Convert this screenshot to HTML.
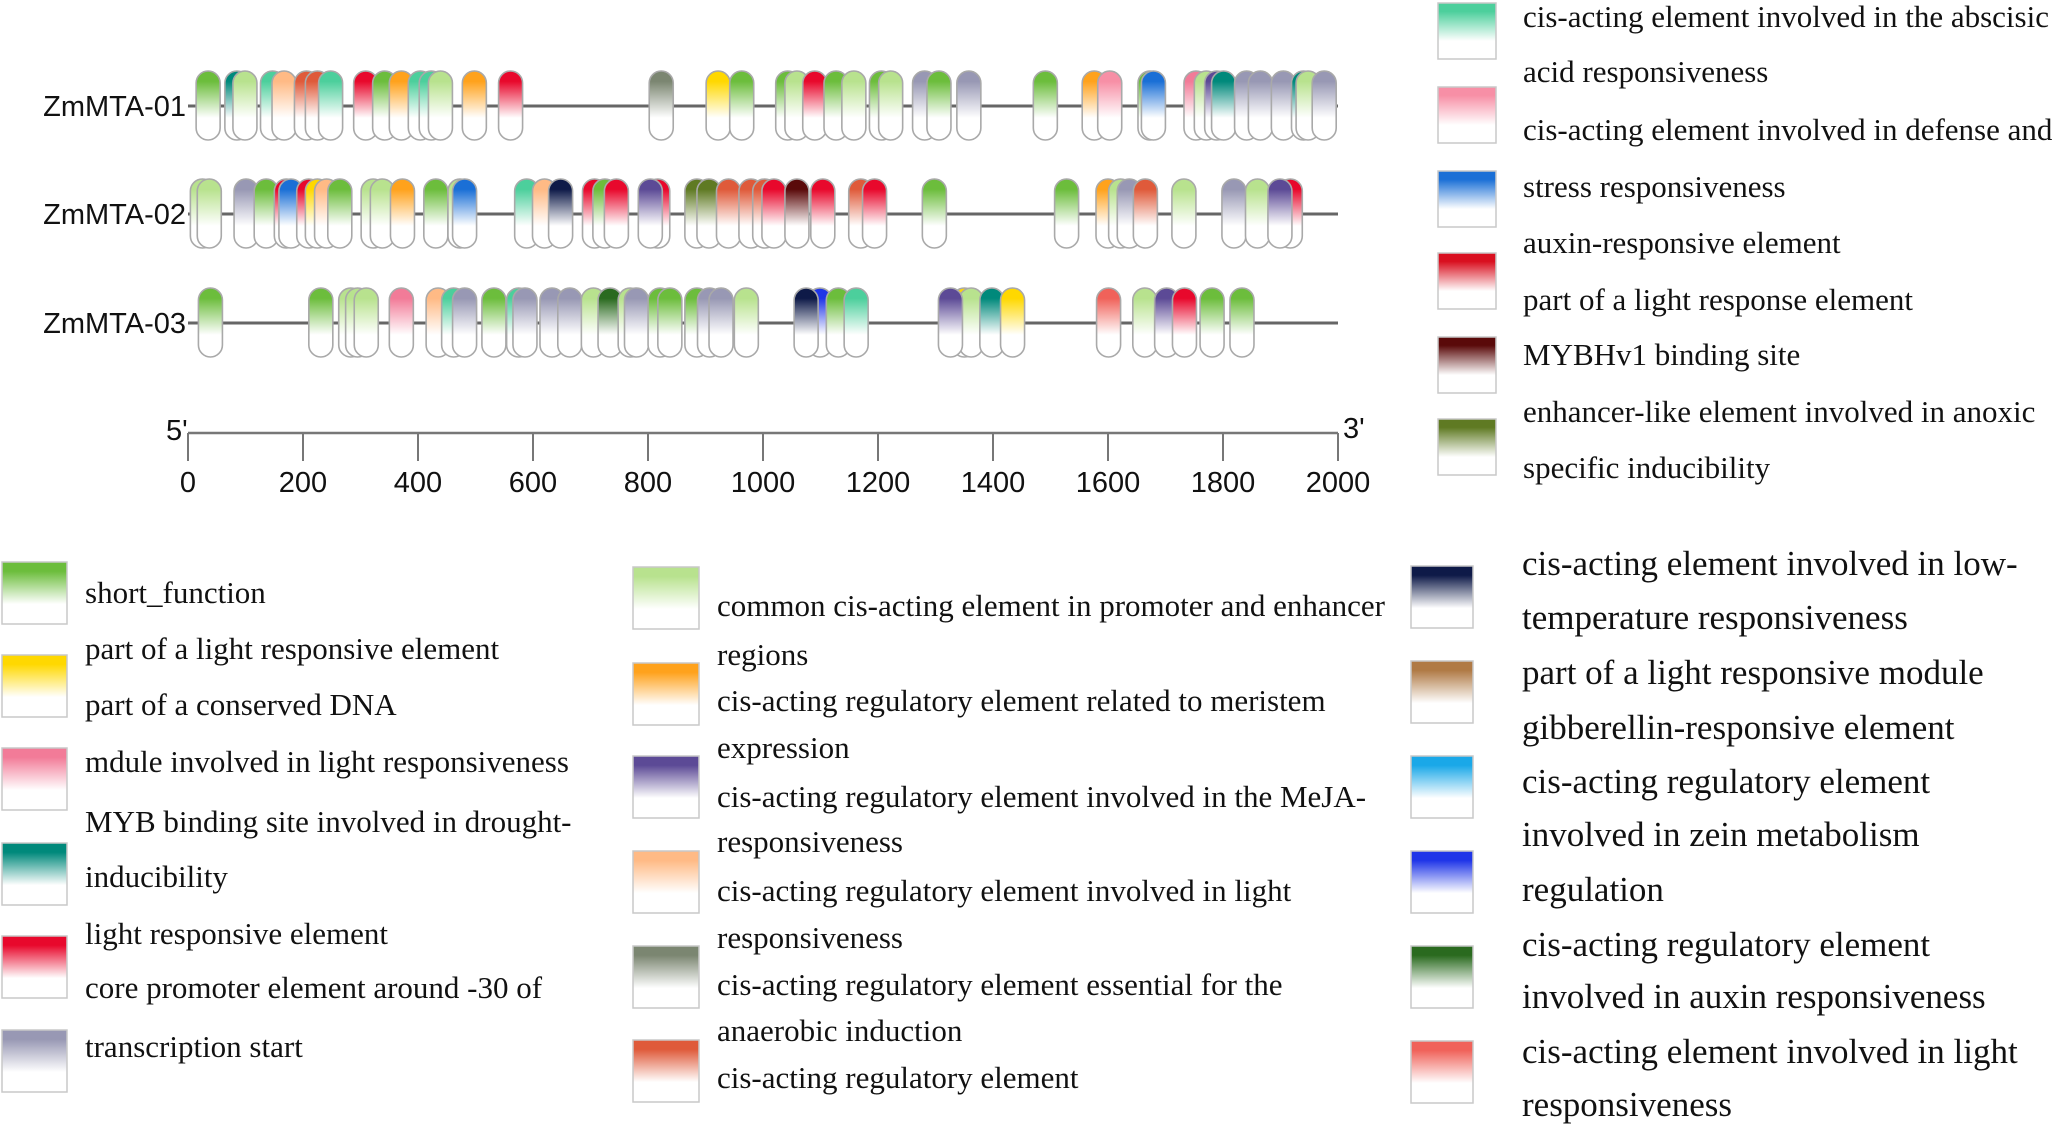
<!DOCTYPE html>
<html><head><meta charset="utf-8"><style>
html,body{margin:0;padding:0;background:#fff;}
svg{display:block;}
.lg{font-family:"Liberation Serif",serif;font-size:31px;fill:#111;}
.lg2{font-family:"Liberation Serif",serif;font-size:35px;fill:#111;}
.ax{font-family:"Liberation Sans",sans-serif;font-size:29px;fill:#111;}
</style></head><body>
<svg id="chart" width="2070" height="1129" viewBox="0 0 2070 1129" xmlns="http://www.w3.org/2000/svg">
<defs id="defs"></defs>
<g id="rows"></g>
<g id="axis"></g>
<g id="legends"></g>
</svg>
<script>
const rowNames = ["ZmMTA-01","ZmMTA-02","ZmMTA-03"];
const axisTicks = [0,200,400,600,800,1000,1200,1400,1600,1800,2000];
const row1Pos = [35,85,99,147,167,206,225,248,309,342,371,404,423,439,498,561,823,922,963,1043,1059,1090,1127,1158,1206,1222,1281,1306,1358,1491,1576,1603,1673,1679,1753,1771,1789,1801,1841,1865,1905,1940,1948,1976];
const row1Type = ["A","D","G","M","J","L","L","M","E","A","H","M","M","G","H","E","K","B","A","A","G","E","A","G","A","G","F","A","F","A","H","N","A","O","C","G","I","D","F","F","F","D","G","F"];
const row2Pos = [25,37,101,136,171,179,210,225,241,264,322,338,373,431,473,481,589,620,648,707,725,745,817,804,885,906,940,979,1003,1019,1059,1104,1170,1194,1298,1528,1600,1622,1637,1665,1732,1819,1860,1917,1899];
const row2Type = ["G","G","F","A","E","O","E","B","J","A","G","G","H","A","G","O","M","J","S","E","A","E","E","I","R","R","L","L","L","E","Q","E","L","E","A","A","H","G","F","L","G","F","G","E","I"];
const row3Pos = [39,231,283,295,310,371,435,462,481,532,575,586,633,664,705,734,769,780,821,838,885,907,927,971,1099,1075,1131,1162,1350,1362,1326,1398,1434,1601,1664,1702,1733,1781,1833];
const row3Type = ["A","A","G","G","G","C","J","M","F","A","M","F","F","F","G","W","G","F","A","A","A","F","F","G","V","S","A","M","B","G","I","D","B","X","G","I","E","A","A"];
const typeKeys = ["A","B","C","D","E","F","G","H","I","J","K","L","M","N","O","P","Q","R","S","T","U","V","W","X"];
const typeColors = ["#6cbd3c","#ffd800","#f27b98","#00897b","#e8082c","#9898b4","#b8e28e","#ffa21c","#5c4a96","#ffba85","#7b8671","#df5a3a","#4ccf9c","#f78fa6","#1a6fd6","#d90f1f","#5a0a0a","#5f7a23","#0e1a48","#b07a45","#1aa8e8","#1f35e8","#2a6a1f","#f0625a"];

const NS="http://www.w3.org/2000/svg";
const X0=188, X1=1338, BPMAX=2000;
function xs(bp){return X0+(bp/BPMAX)*(X1-X0);}
const rowY=[106,214,323];
function mk(tag,attrs,parent){const e=document.createElementNS(NS,tag);for(const k in attrs)e.setAttribute(k,attrs[k]);if(parent)parent.appendChild(e);return e;}

const defs=document.getElementById('defs');
typeKeys.forEach((k,i)=>{
  const g=mk('linearGradient',{id:'g'+k,x1:0,y1:0,x2:0,y2:1},defs);
  mk('stop',{offset:0,'stop-color':typeColors[i]},g);
  mk('stop',{offset:0.15,'stop-color':typeColors[i]},g);
  mk('stop',{offset:0.68,'stop-color':'#ffffff'},g);
  mk('stop',{offset:1,'stop-color':'#ffffff'},g);
});

const rowsG=document.getElementById('rows');
const rowData=[[row1Pos,row1Type],[row2Pos,row2Type],[row3Pos,row3Type]];
rowNames.forEach((name,r)=>{
  const y=rowY[r];
  const g=mk('g',{},rowsG);
  
  
  const t=mk('text',{x:186,y:y+10,'text-anchor':'end','font-family':'Liberation Sans, sans-serif','font-size':29,fill:'#111'},g);
  t.textContent=name;
  
  
  const ln=mk('line',{x1:X0,x2:X1,y1:y,y2:y,stroke:'#666','stroke-width':3},g);
  
  
  const [pos,typ]=rowData[r];
  pos.forEach((p,j)=>{
    const cx=xs(p);
    const rc=mk('rect',{x:cx-12,y:y-35,width:24,height:69,rx:12,ry:12,fill:'url(#g'+typ[j]+')',stroke:'#a9a9a9','stroke-width':1.6},g);
    
    
  });
});

const axG=document.getElementById('axis');
const axl=mk('line',{x1:X0,x2:X1,y1:433,y2:433,stroke:'#777','stroke-width':2.5},axG);


axisTicks.forEach(v=>{
  const x=xs(v);
  const tk=mk('line',{x1:x,x2:x,y1:433,y2:461,stroke:'#777','stroke-width':2},axG);
  
  
  const tl=mk('text',{x:x,y:492,'text-anchor':'middle',class:'ax'},axG);
  tl.textContent=String(v);
  
  
});
const p5=mk('text',{x:166,y:440,class:'ax'},axG);p5.textContent="5'";


const p3=mk('text',{x:1343,y:438,class:'ax'},axG);p3.textContent="3'";



const lg=document.getElementById('legends');
function sw(x,y,w,h,k){
  const r=mk('rect',{x:x,y:y,width:w,height:h,fill:'url(#g'+k+')',stroke:'#c8c8c8','stroke-width':1.5},lg);
  
  
}
function tx(x,y,s,cls){
  const t=mk('text',{x:x,y:y,class:cls||'lg'},lg);t.textContent=s;
  
  
}
[["M",3],["N",87],["O",171],["P",253],["Q",337],["R",419]].forEach(a=>sw(1438,a[1],58,56,a[0]));
[["cis-acting element involved in the abscisic",27],["acid responsiveness",82],["cis-acting element involved in defense and",140],["stress responsiveness",197],["auxin-responsive element",253],["part of a light response element",310],["MYBHv1 binding site",365],["enhancer-like element involved in anoxic",422],["specific inducibility",478]].forEach(a=>tx(1523,a[1],a[0]));
[["A",562],["B",655],["C",748],["D",843],["E",936],["F",1030]].forEach(a=>sw(2,a[1],65,62,a[0]));
[["short_function",603],["part of a light responsive element",659],["part of a conserved DNA",715],["mdule involved in light responsiveness",772],["MYB binding site involved in drought-",832],["inducibility",887],["light responsive element",944],["core promoter element around -30 of",998],["transcription start",1057]].forEach(a=>tx(85,a[1],a[0]));
[["G",567],["H",663],["I",756],["J",851],["K",946],["L",1040]].forEach(a=>sw(633,a[1],66,62,a[0]));
[["common cis-acting element in promoter and enhancer",616],["regions",665],["cis-acting regulatory element related to meristem",711],["expression",758],["cis-acting regulatory element involved in the MeJA-",807],["responsiveness",852],["cis-acting regulatory element involved in light",901],["responsiveness",948],["cis-acting regulatory element essential for the",995],["anaerobic induction",1041],["cis-acting regulatory element",1088]].forEach(a=>tx(717,a[1],a[0]));
[["S",566],["T",661],["U",756],["V",851],["W",946],["X",1041]].forEach(a=>sw(1411,a[1],62,62,a[0]));
[["cis-acting element involved in low-",575],["temperature responsiveness",629],["part of a light responsive module",684],["gibberellin-responsive element",739],["cis-acting regulatory element",793],["involved in zein metabolism",846],["regulation",901],["cis-acting regulatory element",956],["involved in auxin responsiveness",1008],["cis-acting element involved in light",1063],["responsiveness",1116]].forEach(a=>tx(1522,a[1],a[0],'lg2'));
</script>
</body></html>
